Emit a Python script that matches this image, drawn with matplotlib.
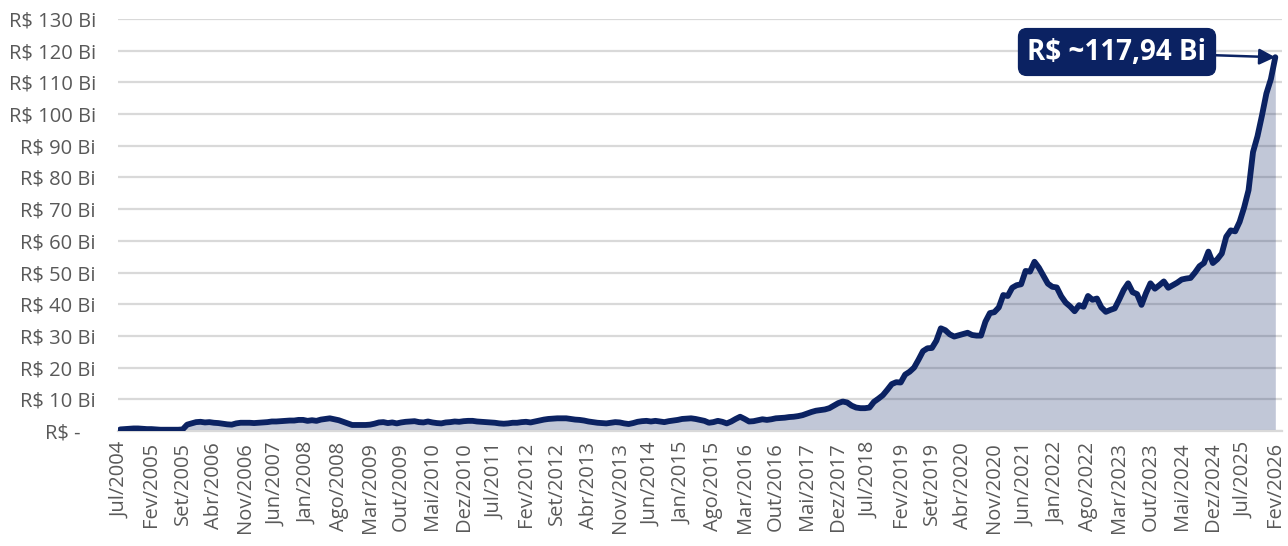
import matplotlib
matplotlib.use("Agg")
import matplotlib.pyplot as plt
import numpy as np

plt.rcParams['font.family'] = ['Open Sans', 'DejaVu Sans']

# meses (Jul/2004 .. Fev/2026) e valores em R$ bilhões
meses_pt = ['Jan', 'Fev', 'Mar', 'Abr', 'Mai', 'Jun', 'Jul', 'Ago', 'Set', 'Out', 'Nov', 'Dez']

v_2004_2007 = [0.5, 0.6, 0.7, 0.8, 0.8, 0.7, 0.6, 0.6, 0.5, 0.4, 0.4, 0.4, 0.4, 0.4, 0.5,
               2.0, 2.4, 2.8, 2.9, 2.7, 2.8, 2.6, 2.5, 2.3, 2.1, 2.0, 2.4, 2.6, 2.6, 2.6,
               2.5, 2.6, 2.7, 2.8, 3.0, 3.0, 3.1, 3.2, 3.3, 3.3, 3.5, 3.5]
v_2008_2011 = [3.2, 3.4, 3.2, 3.6, 3.8, 4.0, 3.7, 3.4, 2.9, 2.4, 1.9, 1.9, 1.9, 1.9, 2.0,
               2.3, 2.7, 2.8, 2.5, 2.7, 2.4, 2.7, 2.9, 3.0, 3.1, 2.8, 2.7, 3.0, 2.7, 2.5,
               2.4, 2.7, 2.8, 3.0, 2.9, 3.1, 3.2, 3.2, 3.0, 2.9, 2.8, 2.7]
v_2011_2015 = [2.6, 2.4, 2.3, 2.4, 2.6, 2.6, 2.8, 2.9, 2.7, 3.0, 3.3, 3.6, 3.8, 3.9, 4.0,
               4.0, 4.0, 3.8, 3.6, 3.5, 3.3, 3.0, 2.8, 2.6, 2.5, 2.4, 2.6, 2.8, 2.7, 2.4,
               2.2, 2.5, 2.9, 3.1, 3.2, 3.0, 3.2, 3.0, 2.8, 3.1, 3.3, 3.5, 3.8, 3.9, 4.0,
               3.8, 3.5, 3.2]
v_2015_2019 = [2.6, 2.8, 3.2, 2.9, 2.4, 3.0, 3.8, 4.5, 3.8, 3.0, 3.1, 3.4, 3.7, 3.5, 3.7,
               4.0, 4.1, 4.2, 4.4, 4.5, 4.7, 5.0, 5.5, 6.0, 6.4, 6.6, 6.8, 7.2, 8.0, 8.8,
               9.3, 9.0, 8.0, 7.4, 7.2, 7.2, 7.4, 9.2, 10.2, 11.3, 13.0, 14.8, 15.4, 15.3,
               17.8, 18.7]
v_2019_2023 = [20.0, 22.5, 25.2, 26.1, 26.2, 28.5, 32.4, 31.8, 30.5, 29.8, 30.2, 30.6,
               31.0, 30.3, 30.1, 30.1, 34.5, 37.2, 37.5, 39.0, 42.9, 42.6, 45.2, 46.0,
               46.3, 50.5, 50.3, 53.4, 51.5, 49.0, 46.5, 45.5, 45.3, 42.5, 40.5, 39.3,
               37.8, 39.7, 39.2, 42.6, 41.4, 41.8, 39.0, 37.6, 38.2, 38.7, 41.5, 44.5]
v_2023_2026 = [46.6, 43.8, 43.2, 39.8, 43.5, 46.6, 44.9, 46.0, 47.2, 45.2, 46.0, 46.8,
               47.8, 48.1, 48.3, 50.0, 52.0, 53.0, 56.6, 53.0, 54.2, 56.0, 61.3, 63.3,
               63.0, 66.0, 70.5, 76.0, 88.0, 93.0, 99.5, 106.5, 111.0, 117.94]

valores = np.array(v_2004_2007 + v_2008_2011 + v_2011_2015 + v_2015_2019 + v_2019_2023 + v_2023_2026)

rotulos = []
for i in range(len(valores)):
    k = 6 + i  # Jul/2004 = indice 6 do ano 2004
    rotulos.append(meses_pt[k % 12] + '/' + str(2004 + k // 12))

y_ticks = list(range(0, 131, 10))
y_labels = ['R$ -   '] + ['R$ %d Bi' % t for t in y_ticks[1:]]

navy = '#0b2262'
cinza = '#595959'

fig = plt.figure(figsize=(12.88, 5.46), dpi=100)
ax = fig.add_axes([118 / 1288, 1 - 431 / 546, (1282 - 118) / 1288, (431 - 19) / 546])

x = np.arange(len(valores))
ax.fill_between(x, 0, valores, color=navy, alpha=0.25, lw=0, zorder=2)
ax.plot(x, valores, color=navy, lw=4.2, solid_capstyle='round', solid_joinstyle='round', zorder=3)

ax.set_ylim(0, 130)
ax.set_xlim(-0.5, 260.5)
ax.set_yticks(y_ticks)
ax.set_yticklabels(y_labels, fontsize=14.5, color=cinza)
ax.yaxis.grid(True, color='#d9d9d9', lw=1.6, zorder=1)
ax.set_axisbelow(True)

pos = x[::7]
ax.set_xticks(pos)
ax.set_xticklabels([rotulos[p] for p in pos], rotation=90, fontsize=14.5, color=cinza)
ax.tick_params(axis='both', length=0)
ax.tick_params(axis='x', pad=8)
ax.tick_params(axis='y', pad=16)

for s in ['top', 'right', 'left']:
    ax.spines[s].set_visible(False)
ax.spines['bottom'].set_color('#d9d9d9')
ax.spines['bottom'].set_linewidth(1.6)

ax.annotate('R$ ~117,94 Bi', xy=(x[-1], valores[-1]), xytext=(1117 / 1288, 1 - 52 / 546),
            textcoords='figure fraction', ha='center', va='center',
            fontsize=20, fontweight='bold', color='white',
            bbox=dict(boxstyle='round,pad=0.32,rounding_size=0.3', fc=navy, ec=navy),
            arrowprops=dict(arrowstyle='-|>', color=navy, lw=1.8, mutation_scale=24,
                            shrinkA=0, shrinkB=0),
            zorder=5)

fig.savefig('out.png', dpi=100)
